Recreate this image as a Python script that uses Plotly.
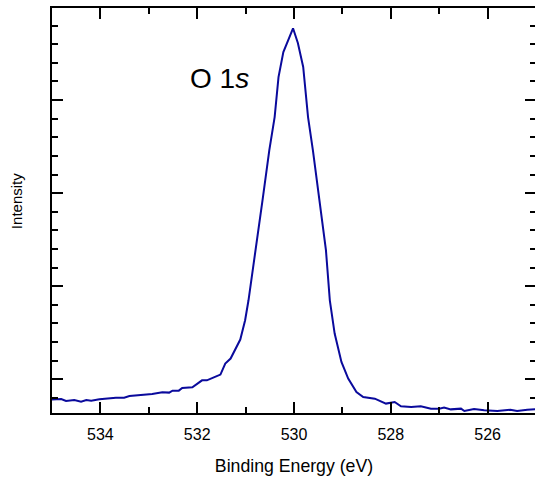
import plotly.graph_objects as go

# O 1s spectrum (binding energy in eV, intensity in arb. units)
binding_energy = [
    535.00, 534.81, 534.71, 534.54, 534.40, 534.29, 534.19, 534.02, 533.68, 533.51,
    533.40, 533.20, 532.93, 532.72, 532.58, 532.51, 532.38, 532.31, 532.10, 531.90,
    531.80, 531.62, 531.52, 531.42, 531.31, 531.11, 531.01, 530.94, 530.79, 530.65,
    530.51, 530.40, 530.32, 530.22, 530.02, 529.92, 529.81, 529.71, 529.61, 529.48,
    529.34, 529.26, 529.16, 529.02, 528.88, 528.71, 528.57, 528.33, 528.23, 528.10,
    527.92, 527.79, 527.58, 527.38, 527.17, 527.00, 526.90, 526.76, 526.55, 526.48,
    526.28, 526.07, 525.80, 525.53, 525.39, 525.18, 525.02,
]
intensity = [
    0.782, 0.788, 0.767, 0.777, 0.760, 0.777, 0.771, 0.785, 0.803, 0.803,
    0.820, 0.828, 0.842, 0.860, 0.857, 0.878, 0.878, 0.906, 0.914, 0.989,
    0.989, 1.029, 1.051, 1.169, 1.223, 1.427, 1.634, 1.849, 2.387, 2.925,
    3.462, 3.817, 4.247, 4.516, 4.771, 4.613, 4.355, 3.817, 3.462, 2.925,
    2.387, 1.849, 1.491, 1.186, 1.008, 0.863, 0.810, 0.792, 0.767, 0.739,
    0.756, 0.710, 0.702, 0.710, 0.685, 0.685, 0.696, 0.677, 0.685, 0.659,
    0.681, 0.667, 0.659, 0.674, 0.659, 0.674, 0.677,
]
x_ticks = [534, 532, 530, 528, 526]

FONT = "Liberation Sans, Arial, sans-serif"
y_range = [0.638, 4.989]

fig = go.Figure()
fig.add_trace(go.Scatter(
    x=binding_energy, y=intensity, mode="lines",
    line=dict(color="#0A0A9C", width=2),
    showlegend=False,
))

# the frame runs a few px past the right window edge, like the original export
fig.update_layout(
    width=539, height=479,
    margin=dict(l=52, r=1, t=8, b=66),
    paper_bgcolor="white", plot_bgcolor="white",
    font=dict(family=FONT, color="black"),
    xaxis=dict(
        range=[535, 525], tickvals=x_ticks, ticks="inside", ticklen=11,
        tickwidth=2, tickcolor="black", showline=True, linewidth=2,
        linecolor="black", mirror="ticks", showgrid=False, zeroline=False,
        tickfont=dict(size=16), ticklabelstandoff=6,
        minor=dict(dtick=1, ticks="inside", ticklen=6, tickwidth=2, tickcolor="black"),
        title=dict(text="Binding Energy (eV)", font=dict(size=17.7), standoff=17),
    ),
    yaxis=dict(
        range=y_range, dtick=1, tick0=0, ticks="inside", ticklen=11, tickwidth=2,
        tickcolor="black", showline=True, linewidth=2, linecolor="black",
        mirror="ticks", showgrid=False, zeroline=False, showticklabels=False,
        minor=dict(dtick=0.2, ticks="inside", ticklen=6, tickwidth=2, tickcolor="black"),
    ),
    annotations=[
        dict(
            text="Intensity", xref="paper", yref="paper", x=-0.072, y=0.5235,
            xanchor="center", yanchor="middle", textangle=-90, showarrow=False,
            font=dict(size=15, family=FONT),
        ),
        dict(
            text="O 1<i>s</i>", xref="paper", yref="paper", x=0.2819, y=0.8247,
            xanchor="left", yanchor="middle", showarrow=False,
            font=dict(size=28, family=FONT),
        ),
    ],
)

fig.write_html(
    "out.html",
    config={"displayModeBar": False},
    post_script="document.body.style.margin='0';"
                "document.documentElement.style.overflow='hidden';",
)
